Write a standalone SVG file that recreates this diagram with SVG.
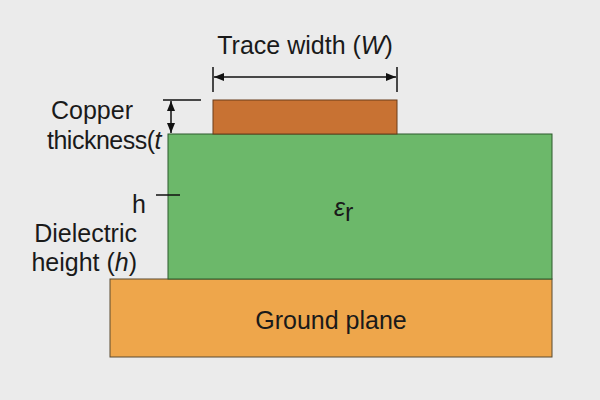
<svg xmlns="http://www.w3.org/2000/svg" width="600" height="400" viewBox="0 0 600 400">
<defs>
<marker id="ar" viewBox="0 0 10 10" refX="10" refY="5" markerWidth="10" markerHeight="10" markerUnits="userSpaceOnUse" orient="auto-start-reverse"><path d="M0,1 L10,5 L0,9 z" fill="#111"/></marker>
<style>
text{font-family:"Liberation Sans",Arial,sans-serif;fill:#1a1a1a;font-size:25px}
.ln{stroke:#111;stroke-width:1.5;fill:none}
</style>
</defs>
<rect width="600" height="400" fill="#ebebeb"/>
<g id="ground"><rect x="110" y="279" width="442" height="78" fill="#eea64b" stroke="#5a4a30" stroke-width="1"/><text x="331" y="329" text-anchor="middle">Ground plane</text></g>
<g id="dielectric"><rect x="168" y="134" width="384" height="145" fill="#6cb86a" stroke="#2d5a2d" stroke-width="1"/><text x="345" y="216" font-size="32" font-style="italic" text-anchor="end">ε</text><text x="345" y="221" font-size="22">r</text></g>
<g id="trace"><rect x="213" y="100" width="184" height="34" fill="#c87233" stroke="#6a3d1a" stroke-width="1"/></g>
<g id="connectors">
<line class="ln" x1="213" y1="67" x2="213" y2="92"/><line class="ln" x1="397" y1="67" x2="397" y2="92"/>
<line class="ln" x1="214" y1="77" x2="396" y2="77" marker-start="url(#ar)" marker-end="url(#ar)"/>
<line class="ln" x1="163" y1="100" x2="201" y2="100"/>
<line class="ln" x1="171" y1="101" x2="171" y2="133" marker-start="url(#ar)" marker-end="url(#ar)"/>
<line class="ln" x1="156" y1="195" x2="180" y2="195"/>
</g>
<g id="labels">
<text x="305" y="54" text-anchor="middle">Trace width (<tspan font-style="italic">W</tspan>)</text>
<text x="92" y="119" text-anchor="middle">Copper</text>
<text x="161" y="149" text-anchor="end" letter-spacing="-0.5">thickness(<tspan font-style="italic">t</tspan></text>
<text x="146" y="213" text-anchor="end">h</text>
<text x="137" y="242" text-anchor="end">Dielectric</text>
<text x="137" y="271" text-anchor="end">height (<tspan font-style="italic">h</tspan>)</text>
</g>
</svg>
